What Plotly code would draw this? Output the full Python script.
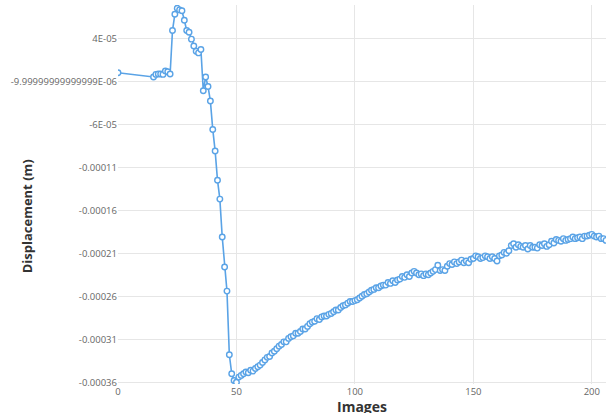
import plotly.graph_objects as go

# Image index
images = [0, 15, 16, 17, 18, 19, 20, 21, 22, 23, 24, 25, 26, 27, 28, 29, 30, 31, 32, 33, 34, 35,
          36, 37, 38, 39, 40, 41, 42, 43, 44, 45, 46] + list(range(47, 207))

# Displacement in micrometres (converted to metres below)
disp_um = [0, -5, -2, -1.5, -1.5, -2, 2, 1, -1.5, 49, 68, 75, 73, 72, 61, 49, 47, 39, 31, 25, 23, 27,
           -21, -5, -16, -33, -66, -91, -125, -147, -191, -226, -254,
           -328, -350, -358, -360, -354, -352, -350, -348, -349, -346, -347, -344, -342, -340,
           -337, -334, -331, -330, -326, -324, -321, -318, -316, -313, -313, -309, -307, -306,
           -303, -303, -301, -298, -298, -295, -292, -290, -289, -286, -287, -284, -283, -283,
           -281, -280, -278, -276, -276, -273, -271, -270, -268, -266, -266, -265, -264, -262,
           -260, -258, -257, -255, -253, -252, -250, -250, -248, -247, -247, -244, -245, -242,
           -244, -241, -240, -237, -238, -235, -237, -233, -231, -233, -235, -234, -236, -234,
           -235, -233, -231, -229, -224, -230, -229, -230, -225, -222, -223, -220, -222, -220,
           -218, -221, -219, -221, -217, -216, -213, -214, -216, -215, -213, -214, -216, -214,
           -216, -219, -213, -212, -209, -210, -207, -201, -199, -203, -200, -202, -203, -201,
           -205, -201, -203, -203, -204, -200, -201, -199, -202, -200, -196, -198, -194, -195,
           -196, -193, -195, -194, -193, -191, -193, -192, -191, -193, -190, -190, -189, -188,
           -190, -191, -190, -193, -193, -195]

disp_m = [v * 1e-6 for v in disp_um]

y_tickvals = [4e-05, -1e-05, -6e-05, -0.00011, -0.00016, -0.00021, -0.00026, -0.00031, -0.00036]
y_ticktext = ["4E-05", "-9.99999999999999E-06", "-6E-05", "-0.00011", "-0.00016",
              "-0.00021", "-0.00026", "-0.00031", "-0.00036"]
x_tickvals = [0, 50, 100, 150, 200]

blue = "#5aa3e6"

fig = go.Figure()
fig.add_trace(go.Scatter(
    x=images, y=disp_m, mode="lines+markers",
    line=dict(color=blue, width=1.6),
    marker=dict(symbol="circle", size=5.5, color="white", line=dict(color=blue, width=1.4)),
    showlegend=False,
))

fig.update_layout(
    width=606, height=413,
    margin=dict(l=118, r=0, t=5, b=29),
    paper_bgcolor="white", plot_bgcolor="white",
    font=dict(family="Open Sans, sans-serif", size=10, color="#555555"),
    xaxis=dict(range=[0, 206], tickvals=x_tickvals, showgrid=True, gridcolor="#e6e6e6",
               gridwidth=1, zeroline=False, showline=False, ticks="", automargin=False,
               tickfont=dict(size=9.5, color="#666666")),
    yaxis=dict(range=[-0.000362, 0.0000787], tickvals=y_tickvals, ticktext=y_ticktext,
               showgrid=True, gridcolor="#e6e6e6", gridwidth=1, zeroline=False,
               showline=False, ticks="", automargin=False,
               tickfont=dict(size=9.5, color="#666666")),
    annotations=[
        dict(text="<b>Displacement (m)</b>", xref="paper", yref="paper", x=-0.186, y=0.443,
             xanchor="center", yanchor="middle", textangle=-90, showarrow=False,
             font=dict(size=13, color="#333333")),
        dict(text="<b>Images</b>", xref="paper", yref="paper", x=0.5, y=-0.03,
             xanchor="center", yanchor="top", showarrow=False,
             font=dict(size=14, color="#333333")),
    ],
)

fig.write_html("out.html", config={"displayModeBar": False},
               post_script="document.body.style.margin='0';")
